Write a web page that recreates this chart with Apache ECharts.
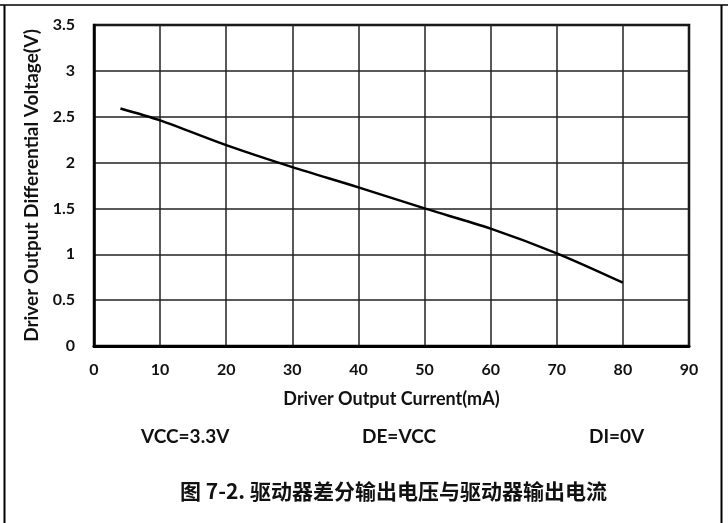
<!DOCTYPE html>
<html><head><meta charset="utf-8">
<script src="https://cdn.jsdelivr.net/npm/echarts@6/dist/echarts.min.js"></script>
<style>html,body{margin:0;padding:0;background:#fff}#c{width:728px;height:523px}</style>
</head><body><div id="c"></div>
<script>
const currentMA = [4, 10, 20, 30, 40, 50, 60, 70, 80];
const diffVoltage = [2.59, 2.46, 2.19, 1.95, 1.73, 1.50, 1.28, 1.01, 0.69];
const xTicks = [0, 10, 20, 30, 40, 50, 60, 70, 80, 90];
const yTicks = [0, 0.5, 1, 1.5, 2, 2.5, 3, 3.5];
const xName = 'Driver Output Current(mA)';
const yName = 'Driver Output Differential Voltage(V)';
const notes = ['VCC=3.3V', 'DE=VCC', 'DI=0V'];
const caption = '图 7-2. 驱动器差分输出电压与驱动器输出电流';

const LAT = 'Lato, "Liberation Sans", sans-serif';
const chart = echarts.init(document.getElementById('c'), null, {renderer: 'canvas'});
chart.setOption({
  animation: false,
  backgroundColor: '#fff',
  grid: {left: 94, top: 25, width: 595, height: 321, show: true, borderColor: '#000', borderWidth: 2.5, containLabel: false},
  xAxis: {
    type: 'value', min: xTicks[0], max: xTicks[xTicks.length - 1], interval: 10,
    name: xName, nameLocation: 'middle', nameGap: 44,
    nameTextStyle: {fontFamily: LAT, fontWeight: 'bold', fontSize: 18, color: '#111'},
    axisLine: {show: true, lineStyle: {color: '#000', width: 3}},
    axisTick: {show: false},
    axisLabel: {fontFamily: LAT, fontWeight: 'bold', fontSize: 16, color: '#111', margin: 16},
    splitLine: {show: true, lineStyle: {color: '#222', width: 1.5}}
  },
  yAxis: {
    type: 'value', min: yTicks[0], max: yTicks[yTicks.length - 1], interval: 0.5,
    name: yName, nameLocation: 'middle', nameGap: 47,
    nameTextStyle: {fontFamily: LAT, fontWeight: 'bold', fontSize: 19, color: '#111'},
    axisLine: {show: true, lineStyle: {color: '#000', width: 2.5}},
    axisTick: {show: false},
    axisLabel: {fontFamily: LAT, fontWeight: 'bold', fontSize: 16, color: '#111', margin: 19},
    splitLine: {show: true, lineStyle: {color: '#222', width: 1.5}}
  },
  series: [{
    type: 'line', data: currentMA.map((x, i) => [x, diffVoltage[i]]),
    smooth: 0.3, showSymbol: false, lineStyle: {color: '#000', width: 2.5}
  }],
  graphic: [
    {type: 'line', shape: {x1: 0, y1: 5, x2: 728, y2: 5}, style: {stroke: '#000', lineWidth: 1.5}},
    {type: 'line', shape: {x1: 4.5, y1: 5, x2: 4.5, y2: 523}, style: {stroke: '#000', lineWidth: 2}},
    {type: 'line', shape: {x1: 721.5, y1: 5, x2: 721.5, y2: 523}, style: {stroke: '#000', lineWidth: 2}},
    {type: 'text', left: 141, top: 427, style: {text: notes[0], fontFamily: LAT, fontWeight: 'bold', fontSize: 19, fill: '#111'}},
    {type: 'text', left: 362, top: 427, style: {text: notes[1], fontFamily: LAT, fontWeight: 'bold', fontSize: 19, fill: '#111'}},
    {type: 'text', left: 589, top: 427, style: {text: notes[2], fontFamily: LAT, fontWeight: 'bold', fontSize: 19, fill: '#111'}},
    {type: 'text', left: 180, top: 481, style: {text: caption, fontFamily: '"Noto Sans CJK SC", Lato, sans-serif', fontWeight: 'bold', fontSize: 21, fill: '#111'}}
  ]
});
</script></body></html>
